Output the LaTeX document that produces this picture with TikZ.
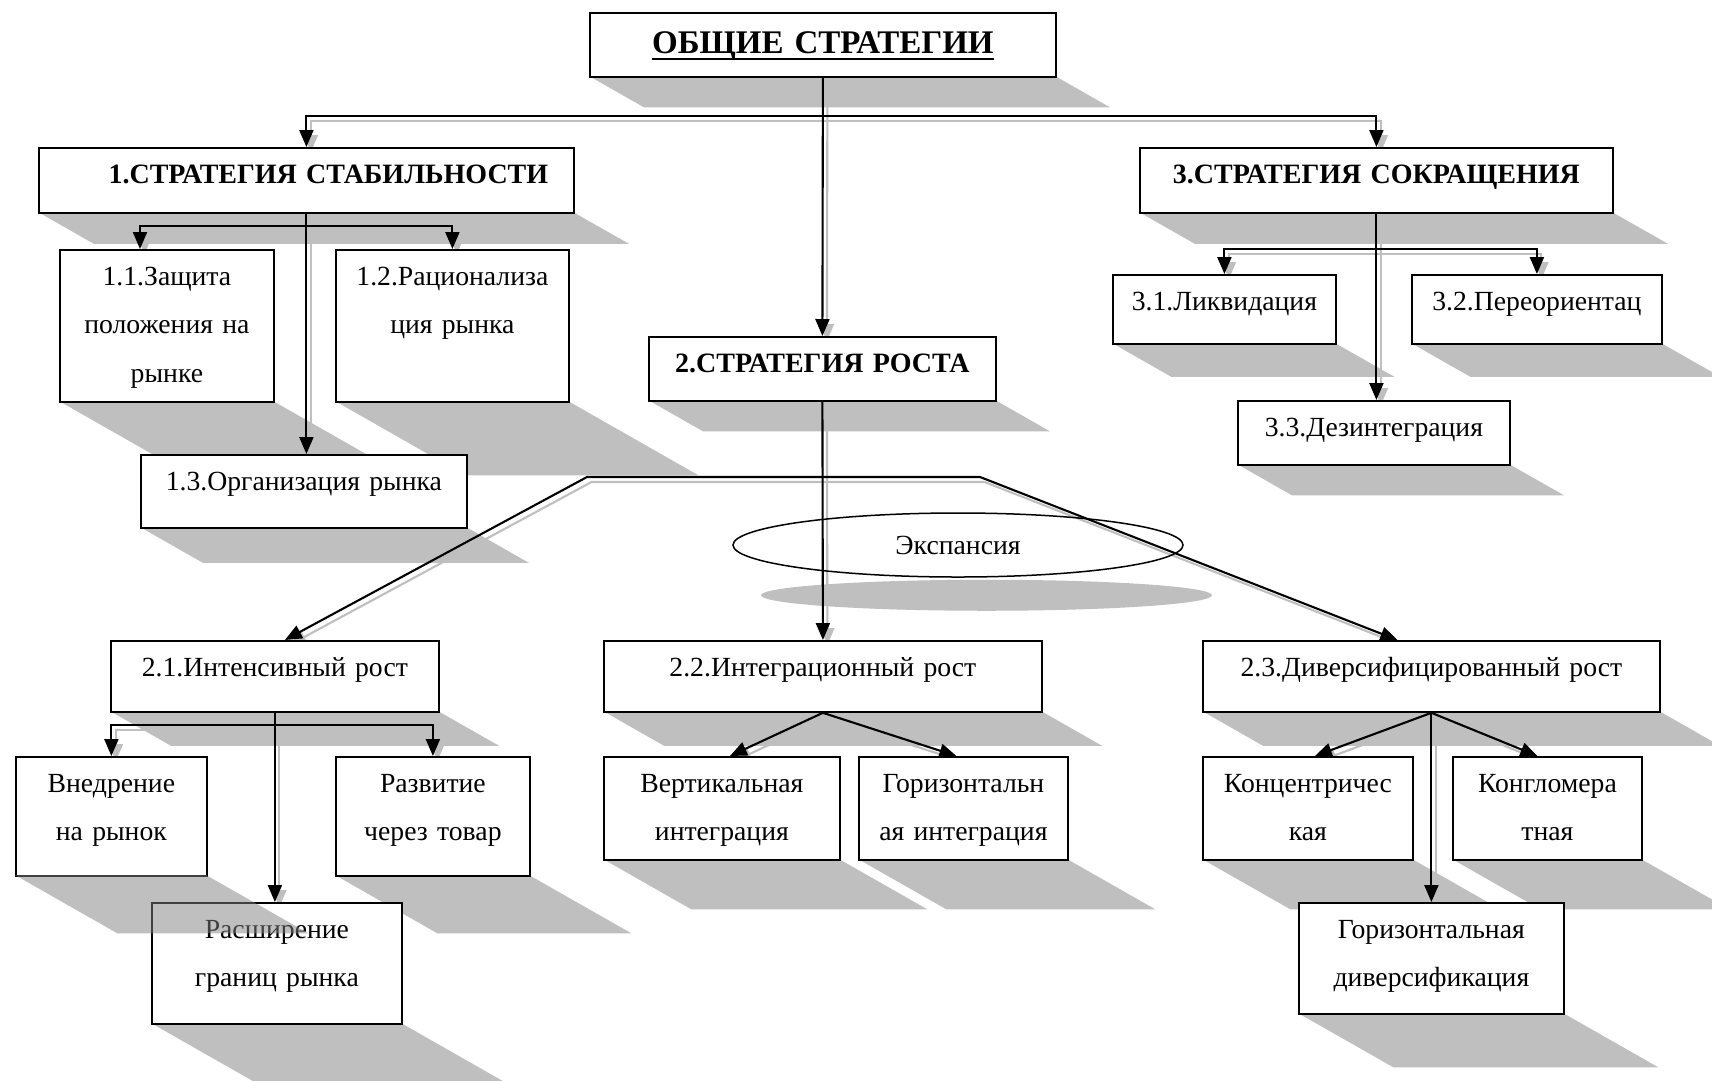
\documentclass[tikz,border=0pt]{standalone}
\usepackage{fontspec}
\setmainfont{Liberation Serif}
\usetikzlibrary{arrows.meta,shapes.geometric}
\tikzset{>/.tip={Triangle[length=17pt,width=14pt]}}
\definecolor{shadowgray}{gray}{0.75}
\pgfdeclarelayer{shade}
\pgfdeclarelayer{wire}
\pgfdeclarelayer{front}
\pgfsetlayers{shade,wire,main,front}
\tikzset{cell/.style={draw,fill=white,line width=1.8pt,anchor=north west,inner sep=0pt,align=center},
  ln/.style={line width=2.1pt},
  shade/.style={fill=shadowgray},
  bold/.style={font=\fontsize{28}{48.5}\selectfont\bfseries}}
\def\cellbase{35.5}
\def\shadelayer{shade}
% box with its slanted shadow: [style] name x1 y1 x2 y2 text
\newcommand\cell[7][]{%
  \pgfmathsetmacro\cw{#5-#3}%
  \pgfmathsetmacro\ch{#6-#4}%
  \pgfmathsetmacro\cd{\ch-\cellbase}%
  \node[cell,#1,text width=\cw pt,text height=\cellbase pt,text depth=\cd pt,minimum height=\ch pt] (#2) at (#3,#4) {#7};
  \begin{pgfonlayer}{\shadelayer}
    \fill[shade] (#3,#6) -- (#5,#6) -- ++(0.86*\ch,0.49*\ch) -- ++(-\cw,0) -- cycle;
  \end{pgfonlayer}}
\newsavebox\ulbox
\newcommand\ulthick[1]{\sbox\ulbox{#1}\rlap{\rule[-6.2pt]{\wd\ulbox}{2.4pt}}\usebox\ulbox}
% all connectors, drawn twice (shadow, then black)
\newcommand\links{%
  \draw[<->] (stab.north) -- (stab.north |- topbus) -| (cut.north);
  \draw[->] (top.south) -- (grow.north);
  \draw[<->] (sb1 |- stab1.north) -- (sb1) -| (stab2.north);
  \draw[->] (stab.south) -- (stab.south |- stab3.north);
  \draw[<->] (cut1.north) |- (cbus) -| (cut2.north);
  \draw[->] (cut.south) -- (cut.south |- cut3.north);
  \draw[<->] ([xshift=10pt]grow1.north) -- (gl) -- (gr) -- ([xshift=-34pt]grow3.north);
  \draw[->] (grow.south) -- (grow2.north);
  \draw[<->] (intro.north) |- (g1bus) -| (prod.north);
  \draw[->] (grow1.south) -- (grow1.south |- mkt.north);
  \draw[->] (grow2.south) -- ([xshift=8pt]vert.north);
  \draw[->] (grow2.south) -- ([xshift=-7pt]horz.north);
  \draw[->] (grow3.south) -- ([xshift=7pt]conc.north);
  \draw[->] (grow3.south) -- ([xshift=-10pt]cong.north);
  \draw[->] (grow3.south) -- (grow3.south |- hdiv.north);}
\begin{document}
\begin{tikzpicture}[x=1pt,y=-1pt,font=\fontsize{27.7}{48.5}\selectfont]
  \useasboundingbox (0,0) rectangle (1712,1080);
  % top
  \def\cellbase{41}
  \cell[font=\fontsize{33}{40}\selectfont\bfseries]{top}{589}{12}{1055}{76}{\ulthick{ОБЩИЕ СТРАТЕГИИ}}
  \def\cellbase{35.5}
  \cell[bold]{stab}{38}{147}{573}{212}{\hspace*{44pt}1.СТРАТЕГИЯ СТАБИЛЬНОСТИ}
  \cell[bold]{grow}{648}{336}{995}{400}{2.СТРАТЕГИЯ РОСТА}
  \cell[bold]{cut}{1139}{147}{1612}{212}{3.СТРАТЕГИЯ СОКРАЩЕНИЯ}
  % stability
  \cell{stab1}{59}{249}{273}{401}{1.1.Защита\\положения на\\рынке}
  \cell{stab2}{335}{249}{568}{401}{1.2.Рационализа\\ция рынка}
  \cell{stab3}{140}{454}{466}{527}{1.3.Организация рынка}
  % reduction
  \cell{cut1}{1112}{274}{1335}{343}{3.1.Ликвидация}
  \cell{cut2}{1411}{274}{1661}{343}{3.2.Переориентац}
  \cell{cut3}{1237}{400}{1509}{464}{3.3.Дезинтеграция}
  % growth
  \cell{grow1}{110}{640}{438}{711}{2.1.Интенсивный рост}
  \cell{grow2}{603}{640}{1041}{711}{2.2.Интеграционный рост}
  \cell{grow3}{1202}{640}{1659}{711}{2.3.Диверсифицированный рост}
  \cell{mkt}{151}{902}{401}{1023}{Расширение\\границ рынка}
  \begin{scope}[shade/.style={fill=black!50,fill opacity=.5}]
    \def\shadelayer{front}
    \cell{intro}{15}{756}{206}{875}{Внедрение\\на рынок}
  \end{scope}
  \cell{prod}{335}{756}{529}{875}{Развитие\\через товар}
  \cell{vert}{603}{756}{839}{859}{Вертикальная\\интеграция}
  \cell{horz}{858}{756}{1067}{859}{Горизонтальн\\ая интеграция}
  \cell{conc}{1202}{756}{1412}{859}{Концентричес\\кая}
  \cell{cong}{1452}{756}{1641}{859}{Конгломера\\тная}
  \cell{hdiv}{1298}{902}{1563}{1013}{Горизонтальная\\диверсификация}
  \node[ellipse,draw,line width=1.5pt,minimum width=450pt,minimum height=64pt,inner sep=0pt] (exp) at (958,545) {Экспансия};
  \begin{pgfonlayer}{shade}
    \fill[shade] (exp.south) ++(28.5,17.5) ellipse [x radius=225.5,y radius=15.5];
  \end{pgfonlayer}
  \coordinate (topbus) at (823,116);
  \coordinate (sb1) at (140,226);
  \coordinate (cbus) at (1375,249);
  \coordinate (gl) at (587,477);
  \coordinate (gr) at (980,477);
  \coordinate (g1bus) at (274,725);
  \begin{pgfonlayer}{wire}
    \begin{scope}[ln,color=shadowgray,transform canvas={shift={(4.5pt,-5pt)}}]
      \links
    \end{scope}
    \begin{scope}[ln]
      \links
    \end{scope}
  \end{pgfonlayer}
\end{tikzpicture}
\end{document}
